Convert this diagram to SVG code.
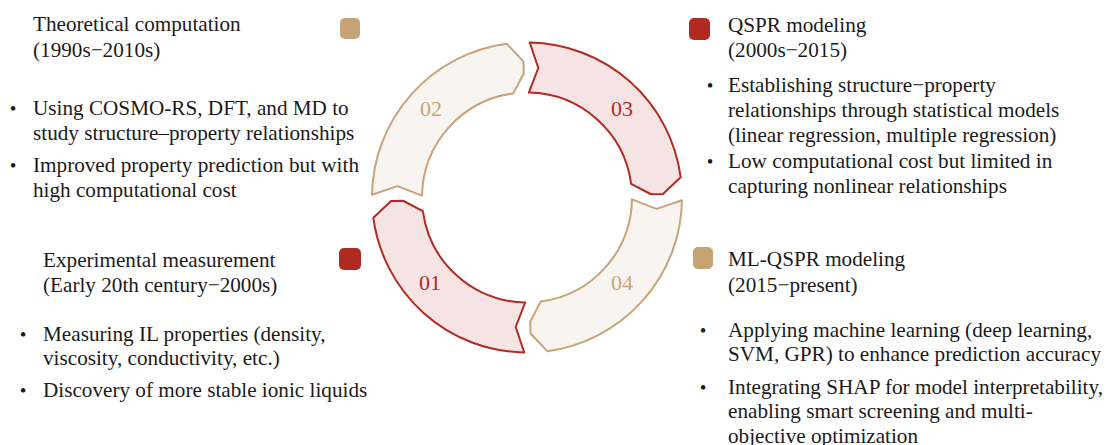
<svg xmlns="http://www.w3.org/2000/svg" xmlns:xlink="http://www.w3.org/1999/xlink" width="1107" height="445" viewBox="0 0 1107 445">
<style>
.t{font-family:"Liberation Serif","Times New Roman",serif;font-size:21.2px;fill:#1a1a1a}
.b{font-family:"Liberation Serif","Times New Roman",serif;font-size:19px;fill:#1a1a1a;text-anchor:middle}
.num{font-family:"Liberation Serif","Times New Roman",serif;font-size:22px;text-anchor:middle}
.red{fill:#f6e4e4;stroke:#b42a22;stroke-width:2;stroke-linejoin:round}
.tan{fill:#f8f5f0;stroke:#c8a478;stroke-width:2;stroke-linejoin:round}
.nr{fill:#b42a22}
.nt{fill:#c8a478}
.sqr{fill:#b12a21}
.sqt{fill:#c6a274}
</style>
<defs>
<path id="seg" d="M372.02,194.80 L397.50,186.17 L422.02,195.67 A105,105 0 0 1 513.29,93.40 L523.75,73.54 L523.44,61.55 L506.77,43.83 A155,155 0 0 0 372.02,194.80 Z"/>
</defs>
<g id="cycle">
<g id="seg01"><use xlink:href="#seg" href="#seg" class="red" transform="rotate(-90 527 197.5)"/><text class="num nr" x="430" y="290">01</text></g>
<g id="seg02"><use xlink:href="#seg" href="#seg" class="tan"/><text class="num nt" x="431" y="116">02</text></g>
<g id="seg03"><use xlink:href="#seg" href="#seg" class="red" transform="rotate(90 527 197.5)"/><text class="num nr" x="622" y="116">03</text></g>
<g id="seg04"><use xlink:href="#seg" href="#seg" class="tan" transform="rotate(180 527 197.5)"/><text class="num nt" x="622" y="290">04</text></g>
</g>
<g id="theoretical">
<rect class="sqt" x="340" y="18" width="20" height="21" rx="5"/>
<text class="t" x="33" y="31">Theoretical computation</text>
<text class="t" x="33" y="57">(1990s−2010s)</text>
<text class="b" x="13" y="115">•</text>
<text class="t" x="33" y="115">Using COSMO-RS, DFT, and MD to</text>
<text class="t" x="33" y="140">study structure–property relationships</text>
<text class="b" x="13" y="172">•</text>
<text class="t" x="33" y="172">Improved property prediction but with</text>
<text class="t" x="33" y="197">high computational cost</text>
</g>
<g id="qspr">
<rect class="sqr" x="689" y="18" width="21" height="22" rx="5"/>
<text class="t" x="728" y="32">QSPR modeling</text>
<text class="t" x="728" y="57">(2000s−2015)</text>
<text class="b" x="710" y="92">•</text>
<text class="t" x="728" y="92">Establishing structure−property</text>
<text class="t" x="728" y="117">relationships through statistical models</text>
<text class="t" x="728" y="142">(linear regression, multiple regression)</text>
<text class="b" x="710" y="168">•</text>
<text class="t" x="728" y="168">Low computational cost but limited in</text>
<text class="t" x="728" y="193">capturing nonlinear relationships</text>
</g>
<g id="experimental">
<rect class="sqr" x="339" y="248" width="22" height="22" rx="5"/>
<text class="t" x="43" y="267">Experimental measurement</text>
<text class="t" x="43" y="292">(Early 20th century−2000s)</text>
<text class="b" x="23" y="341">•</text>
<text class="t" x="43" y="341">Measuring IL properties (density,</text>
<text class="t" x="43" y="365">viscosity, conductivity, etc.)</text>
<text class="b" x="23" y="397">•</text>
<text class="t" x="43" y="397">Discovery of more stable ionic liquids</text>
</g>
<g id="mlqspr">
<rect class="sqt" x="693" y="247" width="20" height="22" rx="5"/>
<text class="t" x="728" y="266">ML-QSPR modeling</text>
<text class="t" x="728" y="292">(2015−present)</text>
<text class="b" x="703" y="337">•</text>
<text class="t" x="728" y="337">Applying machine learning (deep learning,</text>
<text class="t" x="728" y="361">SVM, GPR) to enhance prediction accuracy</text>
<text class="b" x="703" y="394">•</text>
<text class="t" x="728" y="394">Integrating SHAP for model interpretability,</text>
<text class="t" x="728" y="418">enabling smart screening and multi-</text>
<text class="t" x="728" y="443">objective optimization</text>
</g>
</svg>
